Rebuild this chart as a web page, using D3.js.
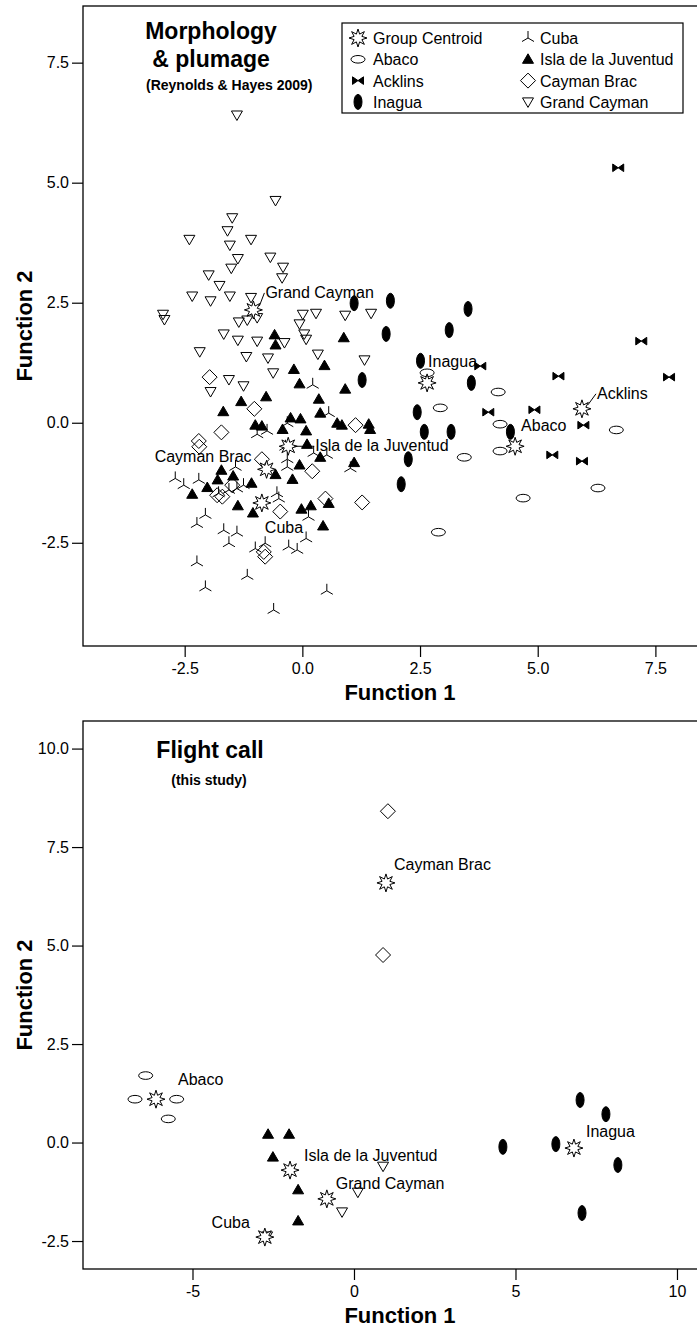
<!DOCTYPE html>
<html>
<head>
<meta charset="utf-8">
<script src="https://cdn.jsdelivr.net/npm/d3@7"></script>
<style>
  body { margin: 0; background: #fff; }
  text { font-family: "Liberation Sans", Arial, sans-serif; fill: #000; }
</style>
</head>
<body>
<svg id="chart" width="697" height="1333"></svg>
<script>
// ---------- 数据：形态与羽色 (Reynolds & Hayes 2009) ----------
const morphGrandCayman = [
  [-1.39, 6.41], [-0.57, 4.63], [-1.49, 4.27], [-1.59, 4.00], [-2.40, 3.82], [-1.09, 3.82],
  [-1.54, 3.70], [-1.37, 3.42], [-0.68, 3.45], [-1.51, 3.22], [-0.41, 3.24], [-0.43, 3.02],
  [-1.99, 3.08], [-1.76, 2.86], [-2.34, 2.64], [-1.95, 2.54], [-1.54, 2.64], [-1.09, 2.61],
  [-2.96, 2.26], [-2.93, 2.15], [-1.35, 2.10], [-1.17, 2.14], [-0.96, 2.19], [0.01, 2.26],
  [0.29, 2.28], [0.91, 2.24], [1.46, 2.28], [-0.06, 2.06], [0.04, 1.85], [0.08, 1.74],
  [-1.67, 1.85], [-1.37, 1.72], [-0.96, 1.70], [-0.38, 1.67], [-2.18, 1.48], [-1.19, 1.38],
  [-0.73, 1.35], [0.33, 1.43], [1.32, 1.31], [-0.62, 1.04], [-1.56, 0.90], [-1.25, 0.77],
  [-1.95, 0.65]
];
const morphIsla = [
  [-0.59, 1.83], [-0.57, 1.62], [0.88, 1.77], [0.47, 1.19], [-0.18, 1.11], [-0.06, 0.81],
  [0.91, 0.70], [-0.77, 0.54], [-1.30, 0.44], [0.35, 0.49], [-1.68, 0.23], [0.38, 0.20],
  [-0.25, 0.10], [-0.04, 0.08], [-1.00, -0.05], [-0.86, -0.07], [-0.42, -0.14], [0.08, -0.17],
  [0.74, -0.01], [0.84, -0.05], [1.41, -0.03], [1.44, -0.14], [0.10, -0.45], [0.38, -0.72],
  [-0.06, -0.88], [1.10, -0.83], [-1.72, -0.99], [-1.47, -1.11], [-1.80, -1.19], [-1.08, -1.26],
  [-0.57, -1.08], [-0.21, -1.18], [-2.02, -1.35], [-2.34, -1.49], [-1.37, -1.73], [-1.05, -1.88],
  [-0.02, -1.80], [0.18, -1.73], [0.56, -1.68], [0.44, -2.15]
];
const morphCaymanBrac = [
  [-1.97, 0.95], [-1.02, 0.29], [-1.72, -0.20], [-2.20, -0.38], [-2.19, -0.50], [-0.86, -0.76],
  [0.21, -1.01], [1.13, -0.05], [-1.81, -1.51], [-1.70, -1.54], [-1.49, -1.30], [0.49, -1.58],
  [1.27, -1.66], [-0.47, -1.85], [-0.82, -2.69], [-0.79, -2.79]
];
const morphCuba = [
  [0.22, 0.79], [0.56, 0.20], [-0.32, -0.01], [-0.75, -0.17], [-0.96, -0.24], [-0.36, -0.50],
  [-1.42, -0.92], [-0.32, -0.76], [-0.32, -0.92], [0.24, -0.63], [0.52, -0.67], [1.02, -0.95],
  [-2.70, -1.16], [-2.52, -1.30], [-2.20, -1.19], [-1.25, -1.30], [-1.78, -1.47], [-1.56, -1.40],
  [-1.39, -1.37], [-0.54, -1.47], [-0.50, -1.58], [-2.06, -1.92], [-2.24, -2.11], [-1.67, -2.24],
  [-1.39, -2.29], [-1.56, -2.51], [-1.00, -2.62], [-0.79, -2.51], [-0.29, -2.58], [-0.11, -2.65],
  [0.08, -2.41], [-2.24, -2.91], [-1.17, -3.19], [-2.06, -3.43], [0.52, -3.50], [-0.61, -3.90],
  [0.13, -1.96]
];
const morphInagua = [
  [1.10, 2.49], [1.87, 2.54], [3.52, 2.37], [3.12, 1.93], [1.78, 1.85], [1.27, 0.89],
  [2.51, 1.29], [3.59, 0.83], [2.44, 0.22], [2.59, -0.19], [3.16, -0.19], [2.25, -0.76],
  [2.10, -1.28], [4.42, -0.19]
];
const morphAbaco = [
  [2.65, 1.04], [2.93, 0.31], [4.16, 0.64], [4.20, -0.03], [3.44, -0.72], [4.69, -1.57],
  [4.20, -0.59], [6.67, -0.15], [6.28, -1.36], [2.89, -2.28]
];
const morphAcklins = [
  [6.71, 5.31], [7.20, 1.70], [7.79, 0.95], [5.44, 0.97], [4.93, 0.27], [3.95, 0.22],
  [3.78, 1.18], [5.97, -0.05], [5.31, -0.67], [5.94, -0.80]
];
const morphCentroids = [
  { name: "Grand Cayman", x: -1.04, y: 2.35 },
  { name: "Isla de la Juventud", x: -0.30, y: -0.49 },
  { name: "Cayman Brac", x: -0.76, y: -0.97 },
  { name: "Cuba", x: -0.86, y: -1.67 },
  { name: "Inagua", x: 2.65, y: 0.83 },
  { name: "Abaco", x: 4.52, y: -0.49 },
  { name: "Acklins", x: 5.94, y: 0.29 }
];

// ---------- 数据：飞行鸣声 (this study) ----------
const callAbaco = [[-6.45, 1.70], [-6.78, 1.10], [-5.49, 1.10], [-5.75, 0.60]];
const callCaymanBrac = [[1.05, 8.41], [0.90, 4.76]];
const callIsla = [[-2.66, 0.21], [-2.01, 0.21], [-2.51, -0.37], [-1.73, -1.20], [-1.73, -1.99]];
const callGrandCayman = [[0.90, -0.60], [0.12, -1.26], [-0.37, -1.76], [-2.69, -2.37]];
const callInagua = [[4.61, -0.11], [7.00, 1.08], [7.80, 0.72], [6.25, -0.04], [8.17, -0.57], [7.06, -1.79]];
const callCentroids = [
  { name: "Cayman Brac", x: 0.99, y: 6.59 },
  { name: "Abaco", x: -6.13, y: 1.10 },
  { name: "Isla de la Juventud", x: -1.98, y: -0.70 },
  { name: "Cuba", x: -2.76, y: -2.40 },
  { name: "Grand Cayman", x: -0.84, y: -1.43 },
  { name: "Inagua", x: 6.81, y: -0.14 }
];

// 刻度
const morphXTicks = [-2.5, 0, 2.5, 5, 7.5];
const morphYTicks = [-2.5, 0, 2.5, 5, 7.5];
const callXTicks = [-5, 0, 5, 10];
const callYTicks = [-2.5, 0, 2.5, 5, 7.5, 10];

const legendItems = [
  ["centroid", "Group Centroid"], ["abaco", "Abaco"], ["acklins", "Acklins"], ["inagua", "Inagua"],
  ["cuba", "Cuba"], ["isla", "Isla de la Juventud"], ["caymanBrac", "Cayman Brac"], ["grandCayman", "Grand Cayman"]
];

// ---------- 符号 ----------
function ellipsePath(rx, ry) {
  return `M${-rx},0 a${rx},${ry} 0 1,0 ${2 * rx},0 a${rx},${ry} 0 1,0 ${-2 * rx},0 Z`;
}
function starPath(ro, ri, n) {
  const pts = d3.range(n * 2).map(i => {
    const a = Math.PI * i / n - Math.PI / 2;
    const r = i % 2 ? ri : ro;
    return [r * Math.cos(a), r * Math.sin(a)];
  });
  return "M" + pts.map(p => p[0].toFixed(2) + "," + p[1].toFixed(2)).join("L") + "Z";
}
const markers = {
  grandCayman: { d: "M-5.5,-4L5.5,-4L0,5.5Z", fill: "none" },
  isla: { d: "M0,-5.5L5.5,4L-5.5,4Z", fill: "#000" },
  caymanBrac: { d: "M0,-7.5L7.5,0L0,7.5L-7.5,0Z", fill: "none" },
  cuba: { d: "M0,0V-7M0,0L-6,3.5M0,0L6,3.5", fill: "none" },
  abaco: { d: ellipsePath(7, 3.8), fill: "none" },
  inagua: { d: ellipsePath(4, 7.5), fill: "#000" },
  acklins: { d: "M-5.5,-3.8L0,0L-5.5,3.8ZM5.5,-3.8L0,0L5.5,3.8Z", fill: "#000" },
  centroid: { d: starPath(9, 4.2, 8), fill: "#fff" }
};

const svg = d3.select("#chart");
const fmt1 = d => d.toFixed(1);
const fmt0 = d => String(d);

function drawPanel(cfg) {
  const g = svg.append("g");
  const x = d3.scaleLinear().domain(cfg.xDomain).range([cfg.left, cfg.right]);
  const y = d3.scaleLinear().domain(cfg.yDomain).range([cfg.bottom, cfg.top]);

  // 坐标轴
  const xAxis = g.append("g")
    .attr("transform", `translate(0,${cfg.bottom})`)
    .call(d3.axisBottom(x).tickValues(cfg.xTicks).tickFormat(cfg.xFormat).tickSize(11).tickPadding(6));
  const yAxis = g.append("g")
    .attr("transform", `translate(${cfg.left},0)`)
    .call(d3.axisLeft(y).tickValues(cfg.yTicks).tickFormat(fmt1).tickSize(11).tickPadding(3));
  [xAxis, yAxis].forEach(a => {
    a.select(".domain").remove();
    a.selectAll("line").attr("stroke", "#000").attr("stroke-width", 1.2);
    a.selectAll("text").style("font-size", "16px").attr("fill", "#000")
      .style("font-family", '"Liberation Sans", Arial, sans-serif');
  });

  // 边框
  g.append("rect")
    .attr("x", cfg.left).attr("y", cfg.top)
    .attr("width", cfg.right - cfg.left).attr("height", cfg.bottom - cfg.top)
    .attr("fill", "none").attr("stroke", "#000").attr("stroke-width", 1.3);

  // 轴标题
  g.append("text")
    .attr("x", 400).attr("y", cfg.bottom + 54)
    .attr("text-anchor", "middle")
    .style("font-size", "22px").style("font-weight", "bold")
    .text("Function 1");
  g.append("text")
    .attr("transform", `translate(32,${(cfg.top + cfg.bottom) / 2}) rotate(-90)`)
    .attr("text-anchor", "middle")
    .style("font-size", "22px").style("font-weight", "bold")
    .text("Function 2");

  // 标题
  cfg.titles.forEach(t => {
    g.append("text")
      .attr("x", t.x).attr("y", cfg.top + t.dy)
      .attr("text-anchor", t.anchor)
      .style("font-size", t.size + "px").style("font-weight", "bold")
      .text(t.text);
  });

  // 数据点
  cfg.series.forEach(([key, data]) => {
    g.append("g").selectAll("path")
      .data(data)
      .enter()
      .append("path")
      .attr("d", markers[key].d)
      .attr("fill", markers[key].fill)
      .attr("stroke", "#000")
      .attr("stroke-width", 1)
      .attr("transform", d => `translate(${x(d[0])},${y(d[1])})`);
  });

  // 组重心
  const cg = g.append("g");
  cg.selectAll("path")
    .data(cfg.centroids)
    .enter()
    .append("path")
    .attr("d", markers.centroid.d)
    .attr("fill", "#fff")
    .attr("stroke", "#000")
    .attr("stroke-width", 1)
    .attr("transform", d => `translate(${x(d.x)},${y(d.y)})`);

  cfg.centroids.forEach(c => {
    const lab = cfg.labels[c.name];
    const cx = x(c.x), cy = y(c.y);
    if (lab.lead) {
      g.append("line")
        .attr("x1", cx + 6).attr("y1", cy + lab.ly)
        .attr("x2", cx + lab.dx - 1).attr("y2", cy + lab.dy - 5)
        .attr("stroke", "#000").attr("stroke-width", 1);
    }
    g.append("text")
      .attr("x", cx + lab.dx).attr("y", cy + lab.dy)
      .attr("text-anchor", lab.anchor || "start")
      .style("font-size", "16px")
      .text(c.name);
  });
  return { x, y };
}

// ---------- 上图 ----------
drawPanel({
  left: 83, right: 718, top: 6, bottom: 646,
  xDomain: [-4.66, 8.83], yDomain: [-4.65, 8.68],
  xTicks: morphXTicks, yTicks: morphYTicks, xFormat: fmt1,
  titles: [
    { text: "Morphology", x: 211, dy: 33, anchor: "middle", size: 23 },
    { text: "& plumage", x: 211, dy: 61, anchor: "middle", size: 23 },
    { text: "(Reynolds & Hayes 2009)", x: 146, dy: 84, anchor: "start", size: 14 }
  ],
  series: [
    ["grandCayman", morphGrandCayman], ["cuba", morphCuba], ["caymanBrac", morphCaymanBrac],
    ["isla", morphIsla], ["inagua", morphInagua], ["abaco", morphAbaco], ["acklins", morphAcklins]
  ],
  centroids: morphCentroids,
  labels: {
    "Grand Cayman": { dx: 12, dy: -12, lead: true, ly: -4 },
    "Isla de la Juventud": { dx: 27, dy: 5, lead: true, ly: 0 },
    "Cayman Brac": { dx: -15, dy: -7, anchor: "end" },
    "Cuba": { dx: 3, dy: 30 },
    "Inagua": { dx: 1, dy: -16 },
    "Abaco": { dx: 6, dy: -15 },
    "Acklins": { dx: 15, dy: -10, lead: true, ly: -4 }
  }
});

// ---------- 下图 ----------
drawPanel({
  left: 83, right: 718, top: 721, bottom: 1269,
  xDomain: [-8.39, 11.27], yDomain: [-3.21, 10.70],
  xTicks: callXTicks, yTicks: callYTicks, xFormat: fmt0,
  titles: [
    { text: "Flight call", x: 210, dy: 37, anchor: "middle", size: 23 },
    { text: "(this study)", x: 209, dy: 64, anchor: "middle", size: 14 }
  ],
  series: [
    ["abaco", callAbaco], ["caymanBrac", callCaymanBrac], ["isla", callIsla],
    ["grandCayman", callGrandCayman], ["inagua", callInagua]
  ],
  centroids: callCentroids,
  labels: {
    "Cayman Brac": { dx: 8, dy: -13 },
    "Abaco": { dx: 22, dy: -14 },
    "Isla de la Juventud": { dx: 14, dy: -9 },
    "Cuba": { dx: -15, dy: -9, anchor: "end" },
    "Grand Cayman": { dx: 9, dy: -10 },
    "Inagua": { dx: 12, dy: -11 }
  }
});

// ---------- 图例 ----------
const legend = svg.append("g");
legend.append("rect")
  .attr("x", 342).attr("y", 23).attr("width", 341).attr("height", 90)
  .attr("fill", "#fff").attr("stroke", "#000").attr("stroke-width", 1.2);
legendItems.forEach(([key, label], i) => {
  const col = Math.floor(i / 4), row = i % 4;
  const sx = col ? 528 : 358, tx = col ? 540 : 373, cy = 38 + row * 21.3;
  legend.append("path")
    .attr("d", markers[key].d)
    .attr("fill", markers[key].fill)
    .attr("stroke", "#000").attr("stroke-width", 1)
    .attr("transform", `translate(${sx},${cy})`);
  legend.append("text")
    .attr("x", tx).attr("y", cy + 6)
    .style("font-size", "16px")
    .text(label);
});
</script>
</body>
</html>
